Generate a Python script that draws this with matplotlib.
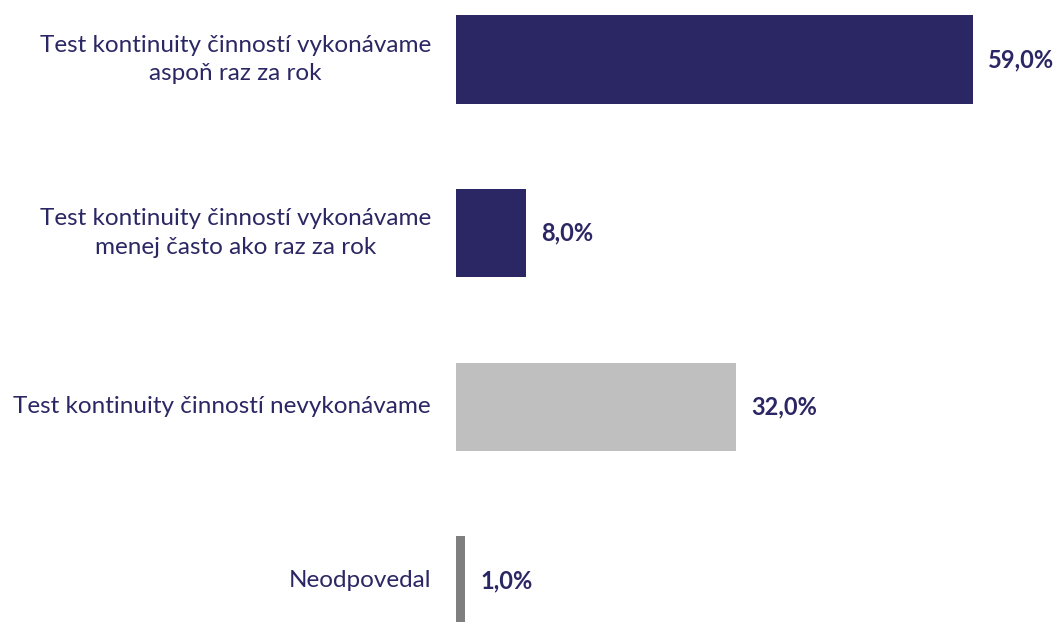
import matplotlib
matplotlib.use('Agg')
import matplotlib.pyplot as plt

categories = ['Test kontinuity činností vykonávame\naspoň raz za rok',
              'Test kontinuity činností vykonávame\nmenej často ako raz za rok',
              'Test kontinuity činností nevykonávame',
              'Neodpovedal']
values = [59.0, 8.0, 32.0, 1.0]
colors = ['#2B2764', '#2B2764', '#BFBFBF', '#7F7F7F']
text_color = '#2B2764'

plt.rcParams['font.family'] = ['Lato', 'DejaVu Sans']

fig = plt.figure(figsize=(10.6, 6.22), dpi=100)
ax = fig.add_axes([456 / 1060, 0, 604 / 1060, 1])

pos = list(range(len(values)))
ax.barh(pos, values, height=0.51, color=colors)
ax.set_xlim(0, 604 / 8.76)
ax.set_ylim(3 + 41.5 / 173.7, -59.5 / 173.7)

for p, v, lab in zip(pos, values, categories):
    ax.annotate(('%.1f%%' % v).replace('.', ','), xy=(v, p), xytext=(11, 0),
                textcoords='offset points', ha='left', va='center',
                fontsize=17, fontweight='bold', color=text_color)
    ax.annotate(lab, xy=(0, p), xytext=(-18, 0), textcoords='offset points',
                ha='right', va='center', multialignment='center',
                fontsize=17.5, color=text_color, linespacing=1.45)

ax.axis('off')
fig.savefig('out.png', dpi=100)
